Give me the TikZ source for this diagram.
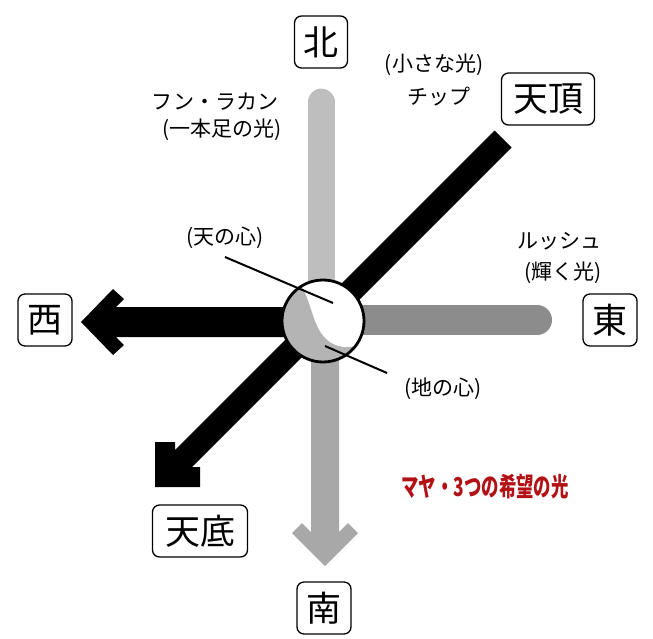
\documentclass[tikz,border=0pt]{standalone}
\usepackage{fontspec}
\newfontfamily\jp{Noto Sans CJK JP}
\definecolor{northgray}{RGB}{190,190,190}
\definecolor{southgray}{RGB}{168,168,168}
\definecolor{eastgray}{RGB}{140,140,140}
\definecolor{moongray}{RGB}{180,180,180}
\definecolor{mayared}{RGB}{178,18,22}
\tikzset{
  dirbox/.style={draw, line width=1.3pt, rounded corners=7pt, font=\jp\fontsize{35}{35}\selectfont,
    minimum height=52pt, inner xsep=9pt, inner ysep=0pt},
  lbl/.style={font=\jp\fontsize{21}{21}\selectfont, inner sep=0pt},
  leader/.style={line width=2pt, black},
}
\begin{document}
\begin{tikzpicture}[x=1pt,y=-1pt]
\useasboundingbox (0,0) rectangle (653,638);
% center
\coordinate (C) at (323,321);
% north bar
\draw[northgray, line width=27pt, line cap=round] (321,102) -- (321,320);
% south bar with chevron head
\fill[southgray] (311,320) -- (311,532) -- (302,523) -- (292,533) -- (325,566)
  -- (358,533) -- (348,523) -- (339,532) -- (339,320) -- cycle;
% east bar
\draw[eastgray, line width=30pt, line cap=round] (325,320) -- (537,320);
% west black arrow
\fill[black] (325,307) -- (116,307) -- (124,299) -- (113,289) -- (81,322)
  -- (113,355) -- (124,345) -- (116,337) -- (325,337) -- cycle;
% diagonal black arrow
\fill[black] (494.5,130.5) -- (511.5,147.5) -- (192,467) -- (200,467) -- (200,487)
  -- (155,487) -- (155,442) -- (175,442) -- (175,450) -- cycle;
% circle with crescent
\fill[moongray] (C) circle (41);
\begin{scope}
  \clip (C) circle (41);
  \fill[white] (296,262) -- (300,284) .. controls (312,300) and (312,330) .. (330,342)
    .. controls (340,349) and (355,349) .. (368,340) -- (380,340) -- (380,262) -- cycle;
\end{scope}
\draw[line width=2.8pt] (C) circle (41);
% direction boxes
\node[dirbox, minimum width=53pt] (north) at (321,42) {北};
\node[dirbox, minimum width=54pt] (south) at (324,608) {南};
\node[dirbox, minimum width=54pt] (east) at (610,320) {東};
\node[dirbox, minimum width=54pt] (west) at (45,320) {西};
\node[dirbox, minimum width=93pt] (zenith) at (548,99) {天頂};
\node[dirbox, minimum width=95pt] (nadir) at (200,531) {天底};
% labels
\node[lbl] (small) at (434,65) {(小さな光)};
\node[lbl] (chip) at (439,97) {チップ};
\node[lbl] (hun) at (215,102) {フン・ラカン};
\node[lbl] (onefoot) at (222,130) {(一本足の光)};
\node[lbl] (lush) at (559,241) {ルッシュ};
\node[lbl] (shine) at (563,273) {(輝く光)};
\node[lbl] (heart) at (225,238) {(天の心)};
\node[lbl] (earth) at (443,389) {(地の心)};
\node[inner sep=0pt, text=mayared, font=\jp\bfseries\fontsize{26}{26}\selectfont] (maya) at (485,487)
  {\scalebox{0.67}[1]{マヤ・3つの希望の光}};
% leader lines
\coordinate (h1) at (225,257);
\coordinate (h2) at (333,303);
\coordinate (e1) at (325,346);
\coordinate (e2) at (387,373);
\draw[leader] (h1) -- (h2);
\draw[leader] (e1) -- (e2);
\end{tikzpicture}
\end{document}
